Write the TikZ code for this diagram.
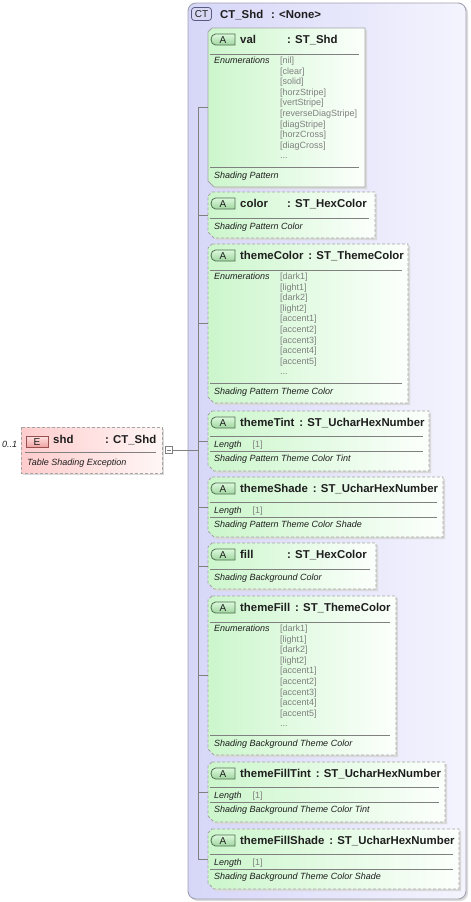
\documentclass[tikz,border=0pt]{standalone}
\usepackage{fontspec}
\setmainfont{Liberation Sans}
\usetikzlibrary{calc}
\definecolor{ctL}{RGB}{214,214,248}
\definecolor{ctR}{RGB}{244,244,254}
\definecolor{ctline}{RGB}{160,160,176}
\definecolor{ctbadge}{RGB}{216,216,244}
\definecolor{ctbadgeline}{RGB}{90,90,130}
\definecolor{attrL}{RGB}{204,246,204}
\definecolor{attrR}{RGB}{252,255,252}
\definecolor{elL}{RGB}{255,204,204}
\definecolor{elR}{RGB}{255,246,246}
\definecolor{boxline}{RGB}{165,165,165}
\definecolor{sepline}{RGB}{128,128,128}
\definecolor{enumgray}{RGB}{128,128,128}
\definecolor{txt}{RGB}{30,30,30}
\definecolor{connc}{RGB}{128,128,128}
\definecolor{badgeT}{RGB}{220,248,220}
\definecolor{badgeB}{RGB}{160,214,160}
\definecolor{badgeline}{RGB}{80,110,80}
\definecolor{ebT}{RGB}{255,222,222}
\definecolor{ebB}{RGB}{240,160,160}
\definecolor{ebline}{RGB}{150,80,80}
\tikzset{
  hdr/.style={font=\fontsize{11.4}{13}\selectfont\bfseries, text=txt, inner sep=0pt, anchor=base west},
  desc/.style={font=\fontsize{9}{11}\selectfont\itshape, text=txt, inner sep=0pt, anchor=base west},
  enumv/.style={font=\fontsize{9}{11}\selectfont, text=enumgray, inner sep=0pt, anchor=base west},
  badgetext/.style={font=\fontsize{10}{11}\selectfont, text=txt, inner sep=0pt},
  sep/.style={draw=sepline, line width=0.8pt},
  connline/.style={draw=connc, line width=0.8pt},
  dashbox/.style={draw=boxline, dash pattern=on 3pt off 2pt, line width=0.9pt},
  solidbox/.style={draw=boxline, line width=0.9pt},
  badge/.style={top color=badgeT, bottom color=badgeB, draw=badgeline, line width=0.8pt},
}
\newcommand{\myShape}[4]{%
  \fill[black!15, shift={(2,2)}] (212,#1) -- (#3,#1) -- (#3,#2) -- (214,#2) -- (208,#2-6) -- (208,#1+4) -- cycle;
  \shade[left color=attrL, right color=attrR] (212,#1) -- (#3,#1) -- (#3,#2) -- (214,#2) -- (208,#2-6) -- (208,#1+4) -- cycle;
  \draw[#4] (212,#1) -- (#3,#1) -- (#3,#2) -- (214,#2) -- (208,#2-6) -- (208,#1+4) -- cycle;
  \shadedraw[badge] (235,#1+6) -- (235,#1+17) -- (215.5,#1+17) to[out=180,in=-90] (211,#1+11.5) to[out=90,in=180] (215.5,#1+6) -- cycle;
}
\newcommand{\myHead}[5]{%
  \node[badgetext] (#1b) at (223,#2+11.8) {A};
  \node[hdr] (#1n) at (240,#2+15.6) {#3};
  \ifx&#5&\node[hdr] (#1t) at ($(#1n.base east)+(4.5,0)$) {#4};
  \else\node[hdr] (#1t) at (#5,#2+15.6) {#4};\fi
}
\newcommand{\myEnumBox}[9]{%
  \myShape{#2}{#2+159}{#3}{#4}
  \myHead{#1}{#2}{#5}{#6}{#7}
  \draw[sep] (210,#2+26) -- (#3-6,#2+26);
  \node[desc] (#1en) at (214,#2+35.5) {Enumerations};
  \foreach \t [count=\i from 0] in {#8} \node[enumv] (#1v\i) at (280,#2+35.5+\i*10.6) {[\t]};
  \node[enumv] (#1vdots) at (280,#2+35.5+9*10.6) {...};
  \draw[sep] (210,#2+139) -- (#3-6,#2+139);
  \node[desc] (#1d) at (214,#2+150) {#9};
}
\newcommand{\myLenBox}[8]{%
  \myShape{#2}{#2+60}{#3}{#4}
  \myHead{#1}{#2}{#5}{#6}{#7}
  \draw[sep] (210,#2+25.3) -- (#3-6,#2+25.3);
  \node[desc] (#1l) at (214,#2+36) {Length};
  \node[enumv] (#1lv) at (252.5,#2+36) {[1]};
  \draw[sep] (210,#2+40) -- (#3-6,#2+40);
  \node[desc] (#1d) at (214,#2+50.3) {#8};
}
\newcommand{\mySimpleBox}[8]{%
  \myShape{#2}{#2+46}{#3}{#4}
  \myHead{#1}{#2}{#5}{#6}{#7}
  \draw[sep] (210,#2+26) -- (#3-6,#2+26);
  \node[desc] (#1d) at (214,#2+37.3) {#8};
}
\begin{document}
\begin{tikzpicture}[x=1pt,y=-1pt]
\useasboundingbox (0,0) rectangle (471,902);
% complex type container
\fill[black!14, rounded corners=8] (190,5) rectangle (468,901);
\shadedraw[left color=ctL, right color=ctR, draw=ctline, line width=0.9pt, rounded corners=8] (188,3) rectangle (466,899);
\draw[draw=ctbadgeline, fill=ctbadge, rounded corners=3, line width=0.8pt] (191.5,7.5) rectangle (211.5,20.5);
\node[badgetext] (ctb) at (201.5,14.2) {CT};
\node[hdr] (ctname) at (220,18) {CT\_Shd};
\node[hdr] (cttype) at (271,18) {: <None>};
% element
\fill[black!15] (23,429) rectangle (164,475);
\shade[left color=elL, right color=elR] (21,427) rectangle (162,473);
\draw[dashbox] (21,427) rectangle (162,473);
\shadedraw[top color=ebT, bottom color=ebB, draw=ebline, line width=0.8pt] (26,436.5) rectangle (48,447.5);
\node[badgetext] (eb) at (37,442.2) {E};
\node[hdr] (elname) at (53,443.5) {shd};
\node[hdr] (eltype) at (105,443.5) {: CT\_Shd};
\draw[sep] (25,452.7) -- (156,452.7);
\node[desc] (eldesc) at (27,465) {Table Shading Exception};
\node[desc] (occ) at (2,447.5) {0..1};
% attributes
\myEnumBox{a}{28}{365}{solidbox}{val}{: ST\_Shd}{287}{nil,clear,solid,horzStripe,vertStripe,reverseDiagStripe,diagStripe,horzCross,diagCross}{Shading Pattern}
\mySimpleBox{b}{192}{375}{dashbox}{color}{: ST\_HexColor}{287}{Shading Pattern Color}
\myEnumBox{c}{244}{408}{dashbox}{themeColor}{: ST\_ThemeColor}{}{dark1,light1,dark2,light2,accent1,accent2,accent3,accent4,accent5}{Shading Pattern Theme Color}
\myLenBox{d}{411}{429}{dashbox}{themeTint}{: ST\_UcharHexNumber}{}{Shading Pattern Theme Color Tint}
\myLenBox{e}{477}{443}{dashbox}{themeShade}{: ST\_UcharHexNumber}{}{Shading Pattern Theme Color Shade}
\mySimpleBox{f}{543}{376}{dashbox}{fill}{: ST\_HexColor}{287}{Shading Background Color}
\myEnumBox{g}{596}{396}{dashbox}{themeFill}{: ST\_ThemeColor}{}{dark1,light1,dark2,light2,accent1,accent2,accent3,accent4,accent5}{Shading Background Theme Color}
\myLenBox{h}{762}{445}{dashbox}{themeFillTint}{: ST\_UcharHexNumber}{}{Shading Background Theme Color Tint}
\myLenBox{k}{829}{459}{dashbox}{themeFillShade}{: ST\_UcharHexNumber}{}{Shading Background Theme Color Shade}
% connectors
\node[draw=sepline, fill=white, minimum size=7pt, inner sep=0pt, line width=0.7pt] (sq) at (168.5,450) {};
\draw[sepline, line width=0.7pt] ($(sq.center)+(-2,0)$) -- ($(sq.center)+(2,0)$);
\coordinate (tj) at (198,450);
\coordinate (ttop) at (198,107.5);
\coordinate (tbot) at (198,859);
\draw[connline] (sq.east) -- (tj);
\draw[connline] (ttop) -- (tbot);
\foreach \yy [count=\j] in {107.5,215,323.5,441,507,566,675.5,792,859} {
  \coordinate (br\j) at (198,\yy);
  \coordinate (bx\j) at (208,\yy);
  \draw[connline] (br\j) -- (bx\j);
}
\end{tikzpicture}
\end{document}
